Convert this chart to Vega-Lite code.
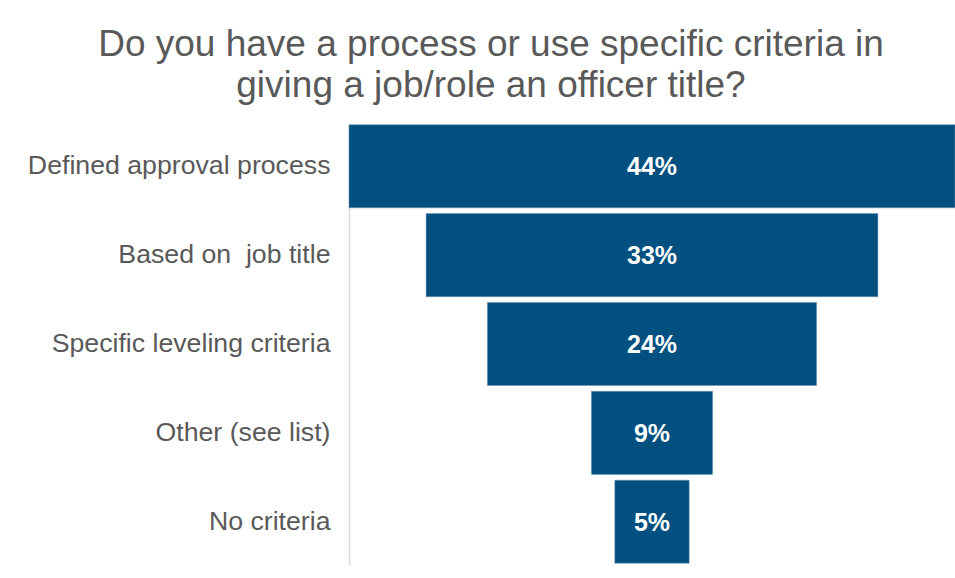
{
  "$schema": "https://vega.github.io/schema/vega-lite/v6.json",
  "width": 606,
  "height": 442,
  "autosize": {"type": "none"},
  "padding": {"left": 349, "top": 123, "right": 0, "bottom": 13},
  "background": "white",
  "title": {
    "text": ["Do you have a process or use specific criteria in", "giving a job/role an officer title?"],
    "font": "Liberation Sans",
    "fontSize": 37,
    "fontWeight": "normal",
    "color": "#595959",
    "lineHeight": 41,
    "anchor": "middle",
    "frame": "group",
    "dx": -161,
    "offset": 18
  },
  "config": {"view": {"stroke": null}},
  "data": {
    "values": [
      {"option": "Defined approval process", "value": 44, "label": "44%"},
      {"option": "Based on\u00a0 job title", "value": 32.8, "label": "33%"},
      {"option": "Specific leveling criteria", "value": 23.9, "label": "24%"},
      {"option": "Other (see list)", "value": 8.8, "label": "9%"},
      {"option": "No criteria", "value": 5.4, "label": "5%"}
    ]
  },
  "encoding": {
    "y": {
      "field": "option",
      "type": "nominal",
      "sort": null,
      "title": null,
      "scale": {"paddingInner": 0.065, "paddingOuter": 0.02},
      "axis": {
        "ticks": false,
        "labelFont": "Liberation Sans",
        "labelFontSize": 26.7,
        "labelColor": "#595959",
        "labelPadding": 19,
        "labelLimit": 400,
        "domainColor": "#d9d9d9",
        "domainWidth": 1.5,
        "grid": false
      }
    }
  },
  "layer": [
    {
      "mark": {"type": "bar", "color": "#01507f", "stroke": "#6f93b0", "strokeWidth": 0.5},
      "encoding": {
        "x": {
          "field": "value",
          "type": "quantitative",
          "stack": "center",
          "scale": {"domain": [0, 44], "nice": false, "zero": false},
          "axis": null
        }
      }
    },
    {
      "mark": {"type": "text", "color": "white", "font": "Liberation Sans", "fontSize": 25, "fontWeight": "bold", "baseline": "middle", "dy": 1},
      "encoding": {
        "x": {"datum": 22, "type": "quantitative"},
        "text": {"field": "label", "type": "nominal"}
      }
    }
  ]
}
